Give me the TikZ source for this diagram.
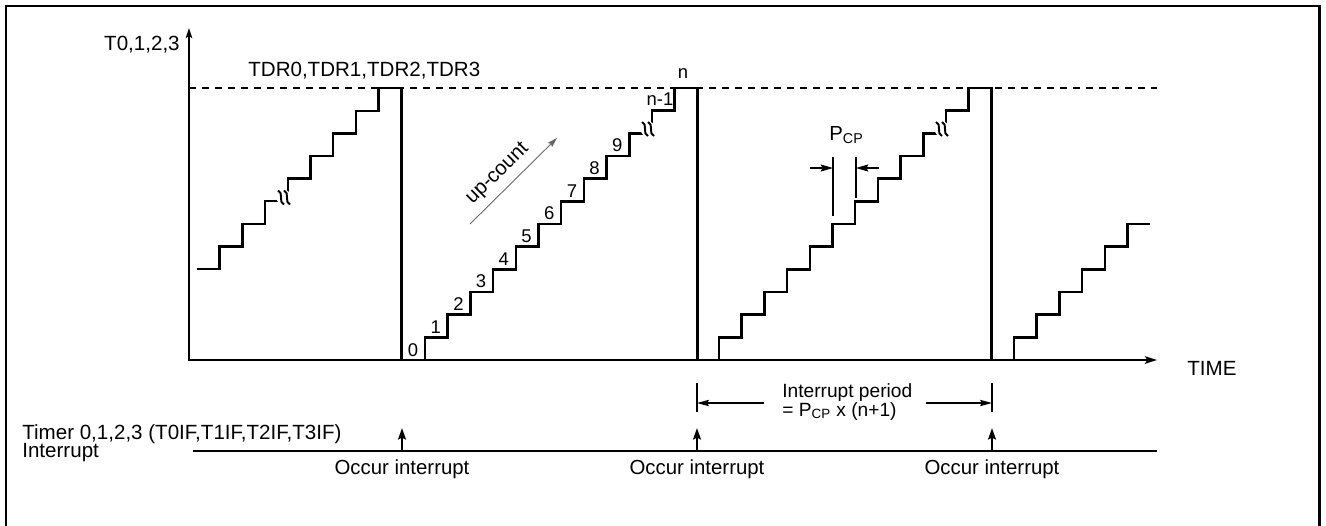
\documentclass[tikz,border=0pt]{standalone}
\usepackage{fontspec}
\setmainfont{Liberation Sans}
\usetikzlibrary{arrows.meta}

\begin{document}
\begin{tikzpicture}[
  x=0.02cm, y=-0.02cm,
  lbl/.style={inner sep=0pt, font=\fontsize{11.7}{13}\selectfont},
  mid/.style={inner sep=0pt, font=\fontsize{11.6}{12.5}\selectfont},
  note/.style={inner sep=0pt, font=\fontsize{10.9}{12}\selectfont},
  small/.style={inner sep=0pt, font=\fontsize{10.5}{11.5}\selectfont},
  frame/.style={line width=1.7pt},
  axis/.style={line width=1.4pt,
    {Stealth[length=5.7pt,width=3.6pt,inset=1.2pt]}-{Stealth[length=6.8pt,width=4.2pt,inset=1.4pt]}},
  wave/.style={line width=1.4pt, line join=miter},
  limit/.style={line width=1.4pt, dash pattern=on 4pt off 3.4pt},
  tick/.style={line width=1.3pt},
  pcparr/.style={line width=0.6pt, -{Stealth[length=7pt,width=4pt,inset=1pt]}},
  periodarr/.style={line width=0.6pt, -{Stealth[length=6.8pt,width=3.6pt,inset=1pt]}},
  uparr/.style={line width=1.4pt, -{Stealth[length=6.5pt,width=4.4pt,inset=1pt]}},
  countarr/.style={draw=black!60, line width=0.5pt, -{Stealth[length=5.7pt,width=3.4pt,inset=1pt]}},
  brk/.pic={
    \fill[white] (0,0) circle (7.5);
    \draw[line width=1.1pt] (-6,-7) .. controls (0,-5) and (-6,5) .. (0,7);
    \draw[line width=1.1pt] (0,-7) .. controls (6,-5) and (0,5) .. (6,7);
  }
]

\useasboundingbox (0,0) rectangle (1326,525);

%% frame
\draw[frame] (6,540) |- (1319,6) -- (1319,540);

%% axes and TDR level
\coordinate (o) at (189,360);
\coordinate (ytop) at (189,28);
\coordinate (xend) at (1157,360);
\draw[axis] (ytop) -- (o) -- (xend);
\coordinate (tdrl) at (189,88);
\coordinate (tdrr) at (1157,88);
\draw[limit] (tdrl) -- (tdrr);

\node[lbl, anchor=base east] (yname) at (180,50) {T0,1,2,3};
\node[lbl, anchor=base west] (tdr) at (248,76) {TDR0,TDR1,TDR2,TDR3};
\node[lbl, anchor=base west] (time) at (1187,375) {TIME};

%% counter staircases
\draw[wave] (197,269) -- ++(22.7,0)
  \foreach \k in {1,...,8} { -- ++(0,-22.6) -- ++(22.7,0) } -- ++(0,271.8);
\draw[wave] (425,360)
  \foreach \k in {1,...,12} { -- ++(0,-22.67) -- ++(22.7,0) } -- ++(0,272);
\draw[wave] (719,360)
  \foreach \k in {1,...,12} { -- ++(0,-22.67) -- ++(22.7,0) } -- ++(0,272);
\draw[wave] (1014,360)
  \foreach \k in {1,...,6} { -- ++(0,-22.67) -- ++(22.7,0) };

%% breaks
\pic at (284,197.5) {brk};
\pic at (648,129) {brk};
\pic at (942,129) {brk};

%% count values
\foreach \k in {0,...,9}
  \node[small, anchor=base] (c\k) at (413+\k*22.7, 356-\k*22.67) {\k};
\node[small, anchor=base] (cnm) at (660,105) {n-1};
\node[small, anchor=base] (cn) at (683,78) {n};

%% up-count
\coordinate (uc1) at (470,224);
\coordinate (uc2) at (557,138);
\draw[countarr] (uc1) -- node[mid, sloped, above=4pt, pos=0.45] (uclbl) {up-count} (uc2);

%% P_CP
\coordinate (pa) at (833,157);
\coordinate (pb) at (856,157);
\draw[tick] (pa) -- (833,216);
\draw[tick] (pb) -- (856,198);
\coordinate (pal) at (810,168);
\coordinate (pbr) at (879,168);
\draw[pcparr] (pal) -- (pa |- pal);
\draw[pcparr] (pbr) -- (pb |- pbr);
\node[mid, anchor=base west] (pcp) at (829,140) {P\textsubscript{CP}};

%% interrupt period
\draw[tick] (697,383) -- (697,412);
\draw[tick] (992,383) -- (992,412);
\coordinate (ip1) at (697,403);
\coordinate (ip2) at (992,403);
\coordinate (ipl) at (764,403);
\coordinate (ipr) at (926,403);
\draw[periodarr] (ipl) -- (ip1);
\draw[periodarr] (ipr) -- (ip2);
\node[note, anchor=base west] (iptop) at (782,397) {Interrupt period};
\node[note, anchor=base west] (ipbot) at (782,416) {= P\textsubscript{CP} x (n+1)};

%% interrupt line
\node[lbl, anchor=base west] (timer) at (22,439) {Timer 0,1,2,3 (T0IF,T1IF,T2IF,T3IF)};
\node[lbl, anchor=base west] (intr) at (22,457) {Interrupt};
\coordinate (il) at (193,451);
\coordinate (ir) at (1157,451);
\draw[line width=1.6pt] (il) -- (ir);
\foreach \x/\n in {402/a,697/b,992/c} {
  \coordinate (occ\n) at (\x,451);
  \draw[uparr] (occ\n) -- ++(0,-23);
  \node[mid, anchor=base] (occlbl\n) at (\x,474) {Occur interrupt};
}

\end{tikzpicture}
\end{document}
